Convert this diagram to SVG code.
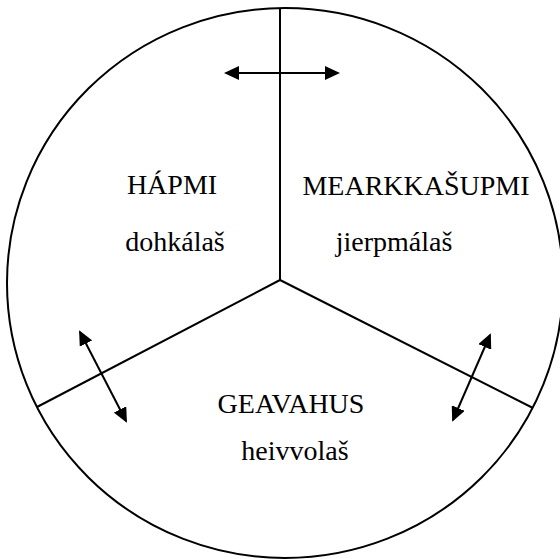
<svg xmlns="http://www.w3.org/2000/svg" width="560" height="559" viewBox="0 0 560 559">
<style>
.ln{stroke:#000;stroke-width:2;fill:none}
.ar{stroke:#000;stroke-width:2;fill:none;marker-start:url(#ah);marker-end:url(#ah)}
.t{font-family:"Liberation Serif","Times New Roman",serif;font-size:28px;fill:#000;text-anchor:middle}
</style>
<defs>
<marker id="ah" markerUnits="userSpaceOnUse" markerWidth="15" markerHeight="14" refX="13" refY="7" orient="auto-start-reverse">
<path d="M0,0 L15,7 L0,14 z" fill="#000"/>
</marker>
</defs>
<rect width="560" height="559" fill="#fff"/>
<g id="frame">
<ellipse class="ln" cx="285" cy="283" rx="278" ry="275"/>
</g>
<g id="connectors">
<line class="ln" x1="280" y1="8" x2="280" y2="280"/>
<line class="ln" x1="280" y1="280" x2="37" y2="407"/>
<line class="ln" x1="280" y1="280" x2="533" y2="408"/>
<line class="ar" x1="226" y1="73" x2="338" y2="73"/>
<line class="ar" x1="80" y1="332" x2="126" y2="421"/>
<line class="ar" x1="490" y1="335" x2="453" y2="420"/>
</g>
<g id="hapmi">
<text class="t" x="172" y="194">HÁPMI</text>
<text class="t" x="175" y="251">dohkálaš</text>
</g>
<g id="mearkkasupmi">
<text class="t" x="416" y="195">MEARKKAŠUPMI</text>
<text class="t" x="394" y="251">jierpmálaš</text>
</g>
<g id="geavahus">
<text class="t" x="291" y="413">GEAVAHUS</text>
<text class="t" x="295" y="460">heivvolaš</text>
</g>
</svg>
